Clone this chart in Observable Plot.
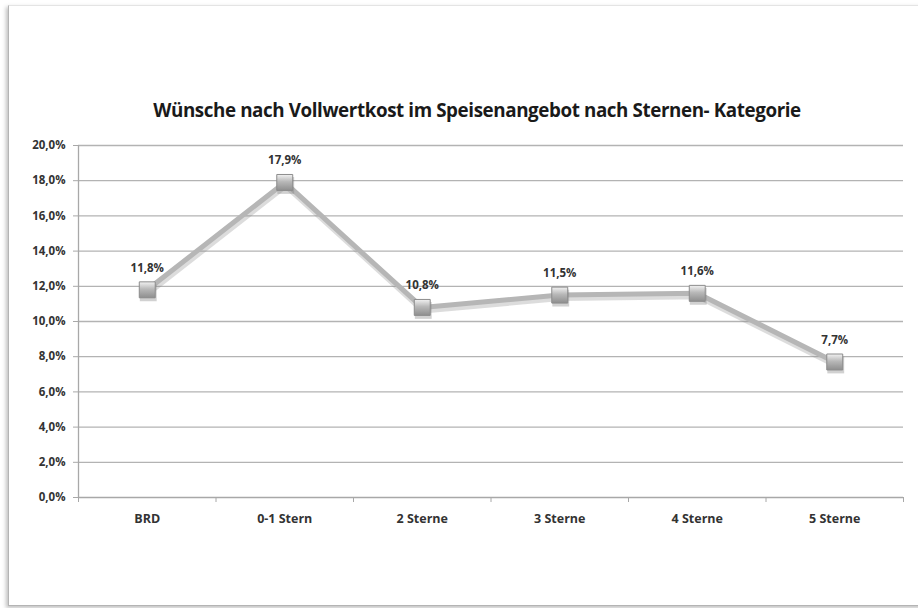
<!DOCTYPE html>
<html>
<head>
<meta charset="utf-8">
<script src="https://cdn.jsdelivr.net/npm/d3@7"></script>
<script src="https://cdn.jsdelivr.net/npm/@observablehq/plot@0.6"></script>
<style>
  html, body { margin: 0; padding: 0; background: #fff; }
  #wrap { position: relative; width: 918px; height: 608px; overflow: hidden; font-family: "Open Sans", "Noto Sans", sans-serif; }
  #frame { position: absolute; left: 8px; top: 5px; width: 930px; height: 599px; border: 1px solid #b4b4b4; border-top-color: #e4e4e4; box-shadow: -2px 2px 4px rgba(0,0,0,0.25); background: #fff; }
  #title { position: absolute; left: 0; top: 97px; width: 954px; text-align: center; font-size: 18.8px; font-weight: 700; color: #1a1a1a; letter-spacing: -0.4px; }
  #chart { position: absolute; left: 0; top: 130px; }
</style>
</head>
<body>
<div id="wrap">
  <div id="frame"></div>
  <div id="title">Wünsche nach Vollwertkost im Speisenangebot nach Sternen- Kategorie</div>
  <div id="chart"></div>
</div>
<script>
const categories = ["BRD", "0-1 Stern", "2 Sterne", "3 Sterne", "4 Sterne", "5 Sterne"];
const values = [11.8, 17.9, 10.8, 11.5, 11.6, 7.7];
const labels = ["11,8%", "17,9%", "10,8%", "11,5%", "11,6%", "7,7%"];
const yTicks = [0, 2, 4, 6, 8, 10, 12, 14, 16, 18, 20];

const data = categories.map((c, i) => ({cat: c, pos: i + 0.5, value: values[i], label: labels[i]}));
const boundaries = d3.range(0, categories.length + 1);
const fmtY = d => d.toFixed(1).replace(".", ",") + "%";

const plot = Plot.plot({
  width: 918,
  height: 478,
  marginLeft: 78,
  marginRight: 15,
  marginTop: 15,
  marginBottom: 111,
  style: {fontFamily: "'Open Sans', 'Noto Sans', sans-serif", background: "transparent", overflow: "visible"},
  x: {type: "linear", domain: [0, categories.length], axis: null, label: null},
  y: {domain: [0, 20], axis: null, label: null},
  marks: [
    Plot.gridY(yTicks.filter(d => d > 0), {stroke: "#b3b3b3", strokeOpacity: 1, strokeWidth: 1.3}),
    Plot.ruleX([0], {stroke: "#a8a8a8", strokeWidth: 1.3}),
    Plot.ruleY([0], {stroke: "#a8a8a8", strokeWidth: 1.3}),
    Plot.axisY({ticks: yTicks, tickFormat: fmtY, tickSize: 5, tickPadding: 8, stroke: "#a8a8a8", fontSize: 11.5, fontWeight: "bold", fill: "#333", label: null}),
    Plot.axisX({ticks: boundaries, tickFormat: () => "", tickSize: 5, stroke: "#a8a8a8", label: null}),
    Plot.axisX({ticks: data.map(d => d.pos), tickFormat: (d, i) => categories[i], tickSize: 0, tickPadding: 17, fontSize: 12.5, fontWeight: "bold", fill: "#333", label: null}),
    Plot.line(data, {x: "pos", y: "value", stroke: "#8a8a8a", strokeOpacity: 0.3, strokeWidth: 6, dx: 1, dy: 3}),
    Plot.line(data, {x: "pos", y: "value", stroke: "#b6b6b6", strokeWidth: 5}),
    Plot.dot(data, {x: "pos", y: "value", symbol: "square", r: 9.5, fill: "#7a7a7a", fillOpacity: 0.35, stroke: "none", dx: 1, dy: 3}),
    Plot.dot(data, {x: "pos", y: "value", symbol: "square", r: 9, fill: "url(#mgrad)", stroke: "#8c8c8c", strokeWidth: 1}),
    Plot.text(data, {x: "pos", y: "value", text: "label", dy: -22, fontSize: 11.5, fontWeight: "bold", fill: "#333"})
  ]
});

const svg = d3.select(plot);
const defs = svg.insert("defs", ":first-child");
const g = defs.append("linearGradient").attr("id", "mgrad").attr("x1", "0").attr("y1", "0").attr("x2", "0").attr("y2", "1");
g.append("stop").attr("offset", "0%").attr("stop-color", "#f2f2f2");
g.append("stop").attr("offset", "45%").attr("stop-color", "#b8b8b8");
g.append("stop").attr("offset", "100%").attr("stop-color", "#8e8e8e");

document.getElementById("chart").appendChild(plot);
</script>
</body>
</html>
